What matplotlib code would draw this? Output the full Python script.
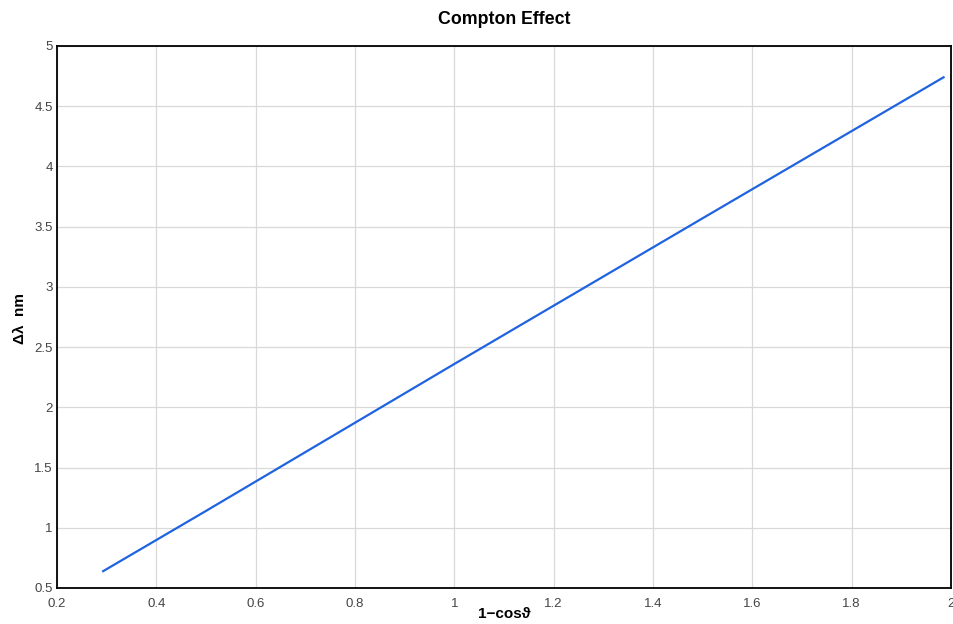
import matplotlib
matplotlib.use("Agg")
import matplotlib.pyplot as plt

# Data
one_minus_cos = [0.293, 0.5, 1.0, 1.5, 1.985]
delta_lambda = [0.64, 1.14, 2.36, 3.57, 4.74]

x_ticks = [0.2, 0.4, 0.6, 0.8, 1, 1.2, 1.4, 1.6, 1.8, 2]
x_tick_labels = ["0.2", "0.4", "0.6", "0.8", "1", "1.2", "1.4", "1.6", "1.8", "2"]
y_ticks = [0.5, 1, 1.5, 2, 2.5, 3, 3.5, 4, 4.5, 5]
y_tick_labels = ["0.5", "1", "1.5", "2", "2.5", "3", "3.5", "4", "4.5", "5"]

plt.rcParams["font.family"] = ["Liberation Sans", "DejaVu Sans"]

fig = plt.figure(figsize=(9.54, 6.24), dpi=100)
ax = fig.add_axes([57 / 954, 1 - 588 / 624, (951 - 57) / 954, (588 - 46) / 624])

ax.plot(one_minus_cos, delta_lambda, color="#1f63e0", linewidth=1.6)

ax.set_xlim(0.2, 2.0)
ax.set_ylim(0.5, 5.0)
ax.set_xticks(x_ticks)
ax.set_xticklabels(x_tick_labels)
ax.set_yticks(y_ticks)
ax.set_yticklabels(y_tick_labels)
ax.tick_params(length=0, labelsize=9.5, labelcolor="#444444")
ax.tick_params(axis="x", pad=7)
ax.tick_params(axis="y", pad=3)
ax.grid(True, color="#d9d9d9", linewidth=0.9)
ax.set_axisbelow(True)
for s in ax.spines.values():
    s.set_color("black")
    s.set_linewidth(1.3)

fig.text(504 / 954, 1 - 20 / 624, "Compton Effect", ha="center", va="center",
         fontsize=12.8, fontweight="bold")
fig.text(504 / 954, 1 - 614 / 624, "1\u2212cos\u03d1", ha="center", va="center",
         fontsize=11, fontweight="bold")
fig.text(20 / 954, 1 - 318 / 624, "\u0394\u03bb  nm", ha="center", va="center",
         rotation=90, fontsize=11, fontweight="bold")

fig.savefig("out.png", dpi=100)
